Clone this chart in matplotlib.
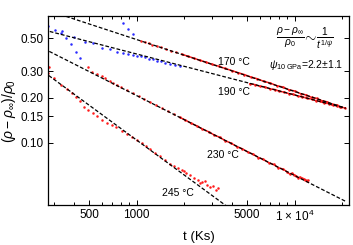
import matplotlib
matplotlib.use("Agg")
import matplotlib.pyplot as plt
import numpy as np

plt.rcParams["font.family"] = ["Liberation Sans", "DejaVu Sans"]
plt.rcParams["mathtext.fontset"] = "custom"
plt.rcParams["mathtext.rm"] = "Liberation Sans"
plt.rcParams["mathtext.it"] = "Liberation Sans:italic"
plt.rcParams["mathtext.bf"] = "Liberation Sans:bold"

# early-time points (blue)
t_blue_170 = [815, 877, 943]
r_blue_170 = [0.630, 0.574, 0.535]

t_blue_190 = [276, 304, 338, 403, 471, 531, 600, 678, 747, 815, 885, 952,
              1004, 1065, 1128, 1196, 1268, 1344, 1425, 1511, 1625, 1747, 1879]
r_blue_190 = [0.604, 0.568, 0.559, 0.512, 0.474, 0.463, 0.433, 0.422, 0.407, 0.400, 0.392, 0.387,
              0.380, 0.378, 0.372, 0.366, 0.361, 0.355, 0.350, 0.344, 0.339, 0.331, 0.326]

t_blue_230 = [332, 357, 384, 413, 438]
r_blue_230 = [0.540, 0.500, 0.456, 0.407, 0.371]

# red data
t_170 = [1070, 1130, 1190, 1260, 1340, 1430, 1530, 1650, 1780, 1930, 2100, 2300, 2500,
         2750, 3000, 3300, 3600, 4000, 4400, 4800, 5300, 5800, 6400, 7000, 7700, 8400,
         9200, 10000, 10900, 11800, 12800, 13800, 14900, 16000, 17200, 18400, 19600, 20800]
r_170 = [0.480, 0.471, 0.462, 0.454, 0.443, 0.434, 0.423, 0.413, 0.402, 0.391, 0.380, 0.368, 0.357,
         0.346, 0.335, 0.325, 0.315, 0.304, 0.294, 0.286, 0.275, 0.268, 0.257, 0.251, 0.241, 0.236,
         0.226, 0.222, 0.213, 0.209, 0.201, 0.198, 0.191, 0.188, 0.181, 0.179, 0.173, 0.171]

t_190 = [5200, 5600, 6000, 6500, 7000, 7500, 8000, 8600, 9200, 9800, 10500,
         11200, 12000, 12800, 13600, 14500, 15400, 16400, 17400, 18400, 19400]
r_190 = [0.248, 0.245, 0.239, 0.236, 0.229, 0.227, 0.221, 0.218, 0.213, 0.211, 0.205,
         0.203, 0.198, 0.196, 0.191, 0.189, 0.184, 0.183, 0.178, 0.177, 0.173]

t_230 = [494, 524, 558, 600, 630, 678, 711, 747, 800, 870, 950, 1030, 1120, 1220, 1330,
         1450, 1580, 1720, 1870, 2030, 2200, 2400, 2600, 2850, 3100, 3350, 3650, 3950,
         4300, 4650, 5050, 5450, 5900, 6350, 6850, 7350, 7900, 8450, 9000, 9300, 9600,
         9900, 10200, 10500, 10800, 11100, 11400, 11700, 12000, 12100]
r_230 = [0.323, 0.299, 0.287, 0.280, 0.270, 0.260, 0.252, 0.243, 0.236, 0.224, 0.214, 0.205,
         0.195, 0.187, 0.178, 0.170, 0.162, 0.155, 0.148, 0.142, 0.1355, 0.1297, 0.1238,
         0.1185, 0.1126, 0.1088, 0.1030, 0.0995, 0.0943, 0.0912, 0.0866, 0.0838, 0.0796,
         0.0773, 0.0735, 0.0716, 0.0680, 0.0666, 0.0636, 0.0617, 0.0624, 0.0612, 0.0600,
         0.0584, 0.0588, 0.0577, 0.0570, 0.0566, 0.0556, 0.0560]

t_245 = [277, 279, 300, 332, 361, 388, 411, 438, 466, 494, 531, 558, 600, 646, 695, 740,
         804, 864, 930, 1000, 1075, 1145, 1214, 1306, 1404, 1511, 1625, 1722, 1825, 1935,
         1990, 2051, 2174, 2305, 2443, 2515, 2590, 2706, 2786, 2911, 3040, 3177, 3270]
r_245 = [0.291, 0.323, 0.270, 0.243, 0.228, 0.214, 0.203, 0.191, 0.174, 0.166, 0.157, 0.151,
         0.142, 0.136, 0.131, 0.128, 0.120, 0.114, 0.109, 0.104, 0.0991, 0.0951, 0.0901,
         0.0854, 0.0809, 0.0766, 0.0726, 0.0704, 0.0678, 0.0657, 0.0647, 0.0627, 0.0608,
         0.0581, 0.0563, 0.0538, 0.0546, 0.0554, 0.0521, 0.0505, 0.0513, 0.0483, 0.0498]

# power-law fits: rho = A * (t/1000)^(-k)
fit_A = [0.4904, 0.3926, 0.2068, 0.1042]
fit_k = [0.3475, 0.2742, 0.5352, 0.7768]

labels = ["170 \u00b0C", "190 \u00b0C", "230 \u00b0C", "245 \u00b0C"]
label_t = [3270, 3270, 2790, 1450]
label_r = [0.347, 0.2195, 0.0828, 0.0461]

fig = plt.figure(figsize=(3.53, 2.45), dpi=100)
ax = fig.add_axes([48 / 353, 1 - 205 / 245, 301 / 353, 189 / 245])

red = "#ff1a1a"
blue = "#2b2bff"
ms = 1.8
# dense stretches of the red records drawn as a thin band behind the points
for tt, rr, t0 in [(t_170, r_170, 1900), (t_190, r_190, 0), (t_230, r_230, 1800)]:
    seg = [(a, b) for a, b in zip(tt, rr) if a >= t0]
    ax.plot([a for a, b in seg], [b for a, b in seg], "-", color=red, lw=1.1, zorder=2)
for tt, rr in [(t_170, r_170), (t_190, r_190), (t_230, r_230), (t_245, r_245)]:
    ax.plot(tt, rr, "o", color=red, ms=ms, mew=0, zorder=2)
for tt, rr in [(t_blue_170, r_blue_170), (t_blue_190, r_blue_190), (t_blue_230, r_blue_230)]:
    ax.plot(tt, rr, "o", color=blue, ms=ms, mew=0, zorder=2)

tf = np.logspace(np.log10(260), np.log10(21000), 200)
for A, k in zip(fit_A, fit_k):
    ax.plot(tf, A * (tf / 1000) ** (-k), color="black", lw=0.9, ls=(0, (3, 1.6)), zorder=3)

ax.set_xscale("log")
ax.set_yscale("log")
ax.set_xlim(275, 22070)
ax.set_ylim(0.0383, 0.705)

ax.set_xticks([500, 1000, 5000, 10000], ["500", "1000", "5000", r"1 $\times$ 10$^4$"])
ax.set_xticks([300, 400, 600, 700, 800, 900, 2000, 3000, 4000, 6000, 7000, 8000, 9000, 20000],
              minor=True)
ax.xaxis.set_minor_formatter(matplotlib.ticker.NullFormatter())
ax.set_yticks([0.10, 0.15, 0.20, 0.30, 0.50], ["0.10", "0.15", "0.20", "0.30", "0.50"])
ax.yaxis.set_minor_locator(matplotlib.ticker.NullLocator())
ax.tick_params(which="both", direction="in", top=True, right=True, labelsize=8.5, width=0.7)
ax.tick_params(which="major", length=3.5, pad=3)
ax.tick_params(which="minor", length=2)
for s in ax.spines.values():
    s.set_linewidth(0.9)

ax.set_xlabel("t (Ks)", fontsize=9.5, labelpad=5)
ax.set_ylabel(r"$(\rho-\rho_\infty)/\rho_0$", fontsize=10, labelpad=2)

for tx, ty, lab in zip(label_t, label_r, labels):
    ax.text(tx, ty, lab, fontsize=7.5, va="center", ha="left")

ax.text(0.852, 0.878, r"$\frac{\rho-\rho_\infty}{\rho_0}\!\sim\!\frac{1}{t^{1/\psi}}$",
        transform=ax.transAxes, fontsize=10.5, ha="center", va="center")
ax.text(0.98, 0.741, r"$\psi_{10\;\mathrm{GPa}}$=2.2$\pm$1.1",
        transform=ax.transAxes, fontsize=7.5, ha="right", va="center")

fig.savefig("out.png", dpi=100)
